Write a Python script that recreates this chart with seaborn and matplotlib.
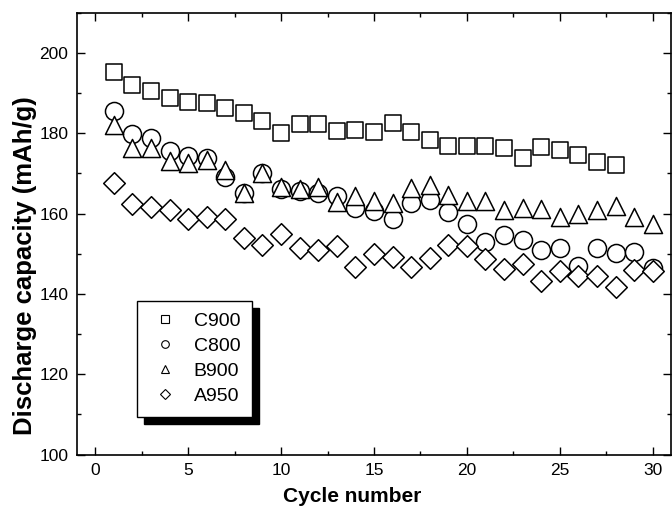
import matplotlib
matplotlib.use("Agg")
import matplotlib.pyplot as plt
import seaborn as sns
import pandas as pd
import numpy as np
from matplotlib.lines import Line2D
from matplotlib.ticker import MultipleLocator

sns.set_theme(style="ticks")
plt.rcParams['font.family'] = ['Liberation Sans', 'DejaVu Sans']
plt.rcParams['text.color'] = 'black'
plt.rcParams['axes.labelcolor'] = 'black'
plt.rcParams['xtick.color'] = 'black'
plt.rcParams['ytick.color'] = 'black'

cycles_c900 = list(range(1, 29))
c900 = [195.2, 192.1, 190.6, 188.7, 187.7, 187.5, 186.3, 185.0, 183.1, 180.1,
        182.4, 182.4, 180.5, 180.9, 180.3, 182.5, 180.3, 178.4, 176.9, 176.9,
        176.9, 176.3, 173.9, 176.6, 175.9, 174.5, 172.8, 172.2]
cycles_c800 = list(range(1, 31))
c800 = [185.6, 179.8, 178.8, 175.5, 174.3, 173.9, 169.0, 165.2, 170.1, 166.0,
        165.6, 165.2, 164.3, 161.5, 160.6, 158.7, 162.7, 163.4, 160.4, 157.3,
        152.8, 154.6, 153.4, 150.9, 151.3, 147.0, 151.5, 150.3, 150.4, 146.5]
cycles_b900 = list(range(1, 31))
b900 = [182.1, 176.3, 176.3, 173.1, 172.7, 173.3, 170.9, 165.0, 170.1, 166.5,
        166.2, 166.5, 162.9, 164.3, 163.2, 162.6, 166.3, 167.2, 164.6, 163.0,
        163.0, 160.9, 161.4, 161.2, 159.1, 160.0, 160.8, 162.0, 159.2, 157.4]
cycles_a950 = list(range(1, 31))
a950 = [167.7, 162.3, 161.7, 161.0, 158.7, 159.2, 158.7, 154.0, 152.1, 154.8,
        151.3, 150.9, 151.8, 146.8, 149.9, 149.1, 146.6, 148.9, 152.1, 151.8,
        148.8, 146.1, 147.4, 143.3, 145.7, 144.5, 144.5, 141.8, 146.0, 145.7]

series_names = ["C900", "C800", "B900", "A950"]
series = [(cycles_c900, c900), (cycles_c800, c800), (cycles_b900, b900), (cycles_a950, a950)]
markers = ["s", "o", "^", "D"]
sizes = [11.5, 13.0, 13.0, 11.0]

fig = plt.figure(figsize=(6.72, 5.09), dpi=100)
ax = fig.add_axes([0.114, 0.107, 0.885, 0.868])

for i, (name, (xs, ys)) in enumerate(zip(series_names, series)):
    df = pd.DataFrame({"Cycle": xs, "Capacity": ys})
    sns.scatterplot(data=df, x="Cycle", y="Capacity", ax=ax, marker=markers[i],
                    s=sizes[i] ** 2, facecolor="white", edgecolor="black",
                    linewidth=1.1, zorder=3 + i, legend=False)

ax.set_xlim(-1, 31)
ax.set_ylim(100, 210)
ax.xaxis.set_major_locator(MultipleLocator(5))
ax.xaxis.set_minor_locator(MultipleLocator(2.5))
ax.yaxis.set_major_locator(MultipleLocator(20))
ax.yaxis.set_minor_locator(MultipleLocator(10))
ax.tick_params(which="both", direction="in", top=True, right=True,
               width=1.0, color="black", labelsize=12.5, labelcolor="black")
ax.tick_params(which="major", length=5.5, pad=6)
ax.tick_params(which="minor", length=3)
for sp in ax.spines.values():
    sp.set_linewidth(1.2)
    sp.set_color("black")

ax.set_xlabel("Cycle number", fontsize=15, fontweight="bold", color="black")
ax.set_ylabel("Discharge capacity (mAh/g)", fontsize=18.5, fontweight="bold", color="black")
ax.xaxis.set_label_coords(0.463, -0.074)
ax.yaxis.set_label_coords(-0.066, 0.427)

handles = [Line2D([], [], marker=m, linestyle="none", markerfacecolor="white",
                  markeredgecolor="black", markersize=5.5, markeredgewidth=0.8)
           for m in markers]
leg = ax.legend(handles, series_names, loc="upper left", bbox_to_anchor=(0.102, 0.348),
                fontsize=14, frameon=True, fancybox=False, edgecolor="black",
                framealpha=1, handlelength=1.7, handletextpad=0.6,
                labelspacing=0.38, borderpad=0.6, borderaxespad=0,
                shadow={"ox": 5, "oy": -5, "color": "black", "alpha": 1})
leg.get_frame().set_linewidth(1.0)
leg.set_zorder(10)
for t in leg.get_texts():
    t.set_color("black")

fig.savefig("out.png", dpi=100)
